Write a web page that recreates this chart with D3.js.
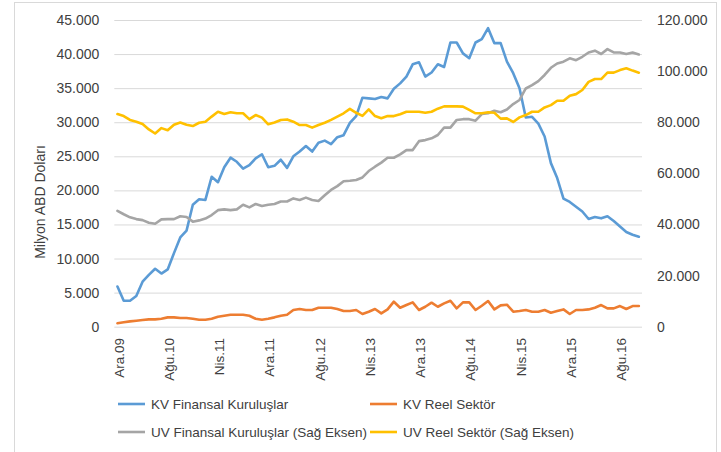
<!DOCTYPE html>
<html>
<head>
<meta charset="utf-8">
<script src="https://cdn.jsdelivr.net/npm/d3@7"></script>
<style>
  body { margin: 0; background: #fff; }
  text { font-family: "Liberation Sans", Arial, sans-serif; fill: #404040; }
</style>
</head>
<body>
<svg class="chart" width="721" height="452"></svg>
<script>
// monthly categories, Ara.09 .. Kas.16
var months = [
  "Ara.09","Oca.10","Şub.10","Mar.10","Nis.10","May.10","Haz.10","Tem.10","Ağu.10","Eyl.10","Eki.10","Kas.10",
  "Ara.10","Oca.11","Şub.11","Mar.11","Nis.11","May.11","Haz.11","Tem.11","Ağu.11","Eyl.11","Eki.11","Kas.11",
  "Ara.11","Oca.12","Şub.12","Mar.12","Nis.12","May.12","Haz.12","Tem.12","Ağu.12","Eyl.12","Eki.12","Kas.12",
  "Ara.12","Oca.13","Şub.13","Mar.13","Nis.13","May.13","Haz.13","Tem.13","Ağu.13","Eyl.13","Eki.13","Kas.13",
  "Ara.13","Oca.14","Şub.14","Mar.14","Nis.14","May.14","Haz.14","Tem.14","Ağu.14","Eyl.14","Eki.14","Kas.14",
  "Ara.14","Oca.15","Şub.15","Mar.15","Nis.15","May.15","Haz.15","Tem.15","Ağu.15","Eyl.15","Eki.15","Kas.15",
  "Ara.15","Oca.16","Şub.16","Mar.16","Nis.16","May.16","Haz.16","Tem.16","Ağu.16","Eyl.16","Eki.16","Kas.16"
];

// KV = kısa vadeli (left axis), UV = uzun vadeli (right axis)
var kvFinansal = [
  5900, 3800, 3800, 4500, 6600, 7600, 8500, 7800, 8400, 10800,
  13100, 14100, 17900, 18700, 18600, 22000, 21200, 23400, 24800, 24200,
  23200, 23700, 24700, 25300, 23400, 23600, 24500, 23300, 25000, 25700,
  26500, 25700, 27000, 27300, 26800, 27800, 28100, 29900, 30900, 33600,
  33500, 33400, 33700, 33500, 34900, 35700, 36700, 38500, 38800, 36700,
  37300, 38500, 38100, 41700, 41700, 40100, 39400, 41700, 42200, 43800,
  41600, 41600, 38900, 37200, 35000, 30700, 30800, 29800, 27900, 24000,
  21800, 18800, 18300, 17600, 16900, 15800, 16100, 15900, 16200, 15500,
  14700, 13900, 13500, 13200
];
var kvReel = [
  500, 640, 780, 880, 980, 1080, 1080, 1170, 1370, 1370,
  1270, 1270, 1170, 1030, 1030, 1170, 1470, 1610, 1760, 1760,
  1760, 1610, 1170, 1030, 1170, 1370, 1610, 1760, 2450, 2590,
  2450, 2450, 2790, 2790, 2790, 2590, 2300, 2300, 2450, 1860,
  2200, 2590, 1960, 2540, 3670, 2790, 3180, 3570, 2450, 2930,
  3520, 2930, 3420, 3810, 2690, 3570, 3570, 2450, 3080, 3770,
  2540, 3130, 3230, 2200, 2300, 2450, 2200, 2200, 2450, 2050,
  2300, 2540, 1860, 2450, 2450, 2540, 2790, 3180, 2690, 2690,
  3030, 2590, 3030, 3030
];
var uvFinansal = [
  45300, 44000, 42800, 42100, 41700, 40700, 40300, 42000, 42100, 42100,
  43200, 42900, 41100, 41600, 42300, 43700, 45600, 45900, 45600, 45900,
  47700, 46700, 48000, 47200, 47700, 48000, 49000, 49000, 50200, 49600,
  50500, 49600, 49200, 51400, 53500, 55000, 56900, 57100, 57400, 58400,
  60900, 62600, 64200, 66100, 66100, 67400, 69100, 69100, 72600, 73000,
  73700, 75000, 77900, 77900, 80900, 81200, 81200, 80600, 83200, 83500,
  84500, 83900, 85000, 87100, 88700, 93200, 94500, 96100, 98500, 101300,
  103000, 103700, 105000, 104300, 105600, 107300, 108000, 106700, 108600, 107300,
  107300, 106700, 107300, 106500
];
var uvReel = [
  83200, 82400, 80900, 80200, 79300, 77200, 75600, 77700, 76900, 79000,
  79900, 79000, 78500, 79800, 80200, 82200, 84100, 83200, 83900, 83500,
  83500, 81200, 82800, 81800, 79200, 79900, 80900, 81100, 80200, 78900,
  78900, 77900, 78900, 79800, 80900, 82200, 83500, 85200, 83700, 82500,
  85000, 82400, 81600, 82400, 82400, 83100, 84100, 84100, 84100, 83700,
  84100, 85300, 86200, 86200, 86200, 86100, 84800, 83500, 83500, 83900,
  83700, 81400, 81500, 80100, 81900, 82800, 84100, 84100, 85800, 86700,
  88400, 88400, 90400, 91000, 92600, 95800, 96900, 96900, 99400, 99400,
  100400, 101100, 100200, 99400
];

var leftTicks = [0, 5000, 10000, 15000, 20000, 25000, 30000, 35000, 40000, 45000];
var rightTicks = [0, 20000, 40000, 60000, 80000, 100000, 120000];
var labelEvery = 8;

var series = [
  {name: "KV Finansal Kuruluşlar", values: kvFinansal, color: "#5b9bd5", axis: "left"},
  {name: "KV Reel Sektör", values: kvReel, color: "#ed7d31", axis: "left"},
  {name: "UV Finansal Kuruluşlar (Sağ Eksen)", values: uvFinansal, color: "#a5a5a5", axis: "right"},
  {name: "UV Reel Sektör (Sağ Eksen)", values: uvReel, color: "#ffc000", axis: "right"}
];

// turkish number format: 45.000
var trFormat = d3.formatLocale({decimal: ",", thousands: ".", grouping: [3], currency: ["", ""]}).format(",.0f");

var plotLeft = 114.3, plotRight = 642, plotTop = 20, plotBottom = 326.7;

var svg = d3.select(".chart");

// chart frame
svg.append("rect")
    .attr("x", 14.5)
    .attr("y", 2.5)
    .attr("width", 702)
    .attr("height", 470)
    .attr("fill", "none")
    .attr("stroke", "#d9d9d9");

var x = d3.scalePoint()
    .domain(months)
    .range([plotLeft, plotRight])
    .padding(0.5);

var yLeft = d3.scaleLinear().domain([0, 45000]).range([plotBottom, plotTop]);
var yRight = d3.scaleLinear().domain([0, 120000]).range([plotBottom, plotTop]);

// left axis with gridlines
var leftAxis = svg.append("g")
    .attr("transform", "translate(" + plotLeft + ",0)")
    .call(d3.axisLeft(yLeft)
      .tickValues(leftTicks)
      .tickFormat(trFormat)
      .tickSize(-(plotRight - plotLeft))
      .tickPadding(15));
leftAxis.select(".domain").remove();
leftAxis.selectAll(".tick line").attr("stroke", "#d9d9d9");
leftAxis.selectAll(".tick text")
    .style("font-size", "14px")
    .attr("fill", "#404040");

// right axis, labels only
var rightAxis = svg.append("g")
    .attr("transform", "translate(" + plotRight + ",0)")
    .call(d3.axisRight(yRight)
      .tickValues(rightTicks)
      .tickFormat(trFormat)
      .tickSize(0)
      .tickPadding(15));
rightAxis.select(".domain").remove();
rightAxis.selectAll(".tick text")
    .style("font-size", "14px")
    .attr("fill", "#404040");

// category labels, every 8th month, rotated
svg.append("g")
    .selectAll("text")
    .data(months.filter(function(m, i) { return i % labelEvery === 0; }))
    .join("text")
    .attr("transform", function(d) { return "translate(" + (x(d) + 1.5) + ",338) rotate(-90)"; })
    .attr("text-anchor", "end")
    .attr("dy", "0.35em")
    .style("font-size", "13.5px")
    .text(function(d) { return d; });

// y axis title
svg.append("text")
    .attr("transform", "translate(45,202) rotate(-90)")
    .attr("text-anchor", "middle")
    .style("font-size", "14px")
    .text("Milyon ABD Doları");

// the lines
series.forEach(function(s) {
  var y = s.axis === "left" ? yLeft : yRight;
  var line = d3.line()
      .x(function(d, i) { return x(months[i]); })
      .y(function(d) { return y(d); });
  svg.append("path")
      .datum(s.values)
      .attr("d", line)
      .attr("fill", "none")
      .attr("stroke", s.color)
      .attr("stroke-width", 2.6)
      .attr("stroke-linejoin", "round")
      .attr("stroke-linecap", "round");
});

// legend, 2 columns x 2 rows
var legendX = [118, 370];
var legendY = [404, 432];
var legend = svg.append("g")
    .selectAll("g")
    .data(series)
    .join("g")
    .attr("transform", function(d, i) {
      return "translate(" + legendX[i % 2] + "," + legendY[Math.floor(i / 2)] + ")";
    });
legend.append("line")
    .attr("x1", 0)
    .attr("x2", 27)
    .attr("stroke", function(d) { return d.color; })
    .attr("stroke-width", 2.6);
legend.append("text")
    .attr("x", 33)
    .attr("dy", "0.35em")
    .style("font-size", "13.5px")
    .text(function(d) { return d.name; });
</script>
</body>
</html>
